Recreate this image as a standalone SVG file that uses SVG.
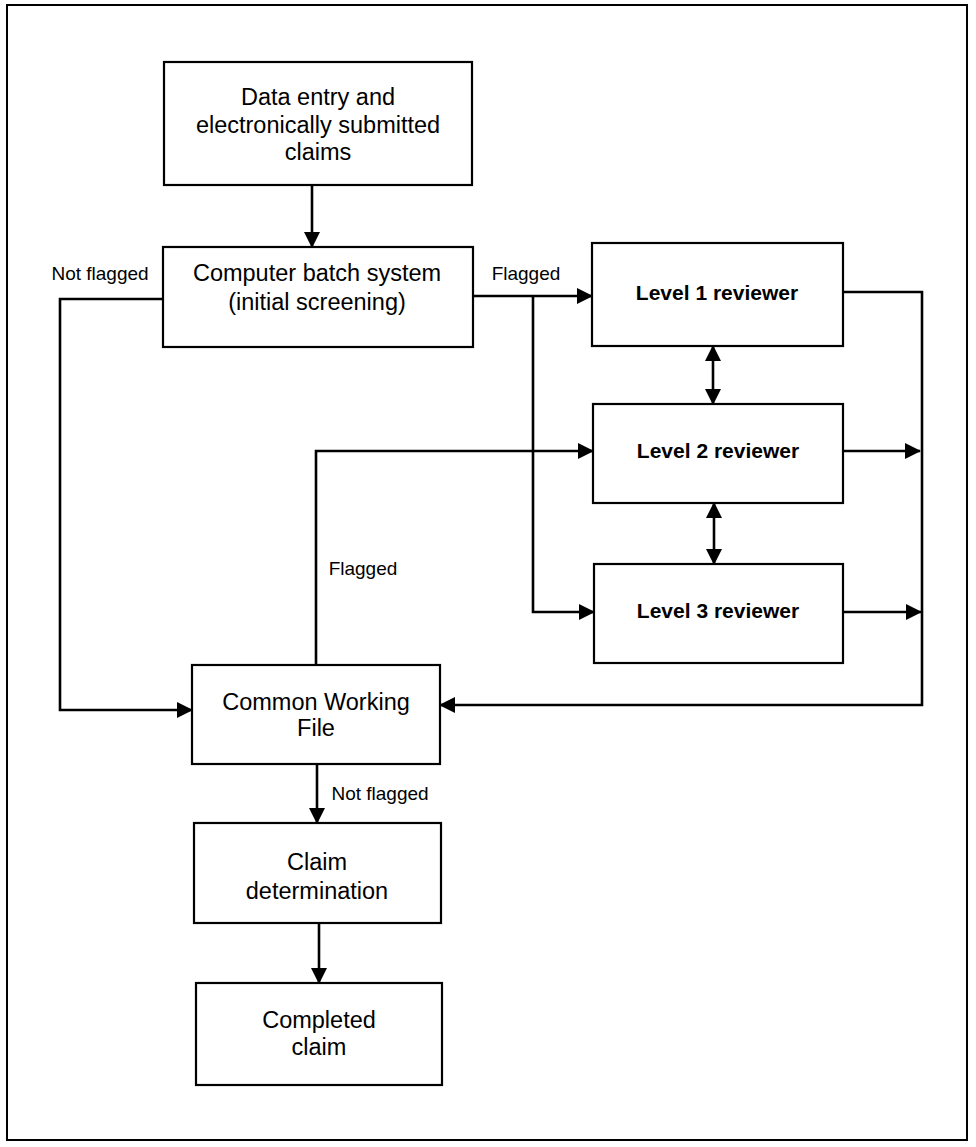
<svg xmlns="http://www.w3.org/2000/svg" width="976" height="1147" viewBox="0 0 976 1147">
<style>
.box{fill:#fff;stroke:#000;stroke-width:2.2}
.t{font-family:"Liberation Sans",Arial,Helvetica,sans-serif;font-size:23.5px;fill:#000;text-anchor:middle}
.b{font-weight:bold;font-size:21px}
.lbl{font-family:"Liberation Sans",Arial,Helvetica,sans-serif;font-size:19px;fill:#000;text-anchor:middle}
.c{fill:none;stroke:#000;stroke-width:2.6}
</style>
<defs>
<marker id="ah" markerUnits="userSpaceOnUse" markerWidth="16" markerHeight="16" refX="15" refY="8" orient="auto-start-reverse">
<path d="M0,0 L16,8 L0,16 z" fill="#000"/>
</marker>
</defs>
<rect x="0" y="0" width="976" height="1147" fill="#fff"/>
<rect x="7" y="5" width="960" height="1135" fill="none" stroke="#000" stroke-width="2"/>
<g id="connectors">
<path class="c" d="M312,185 V247" marker-end="url(#ah)"/>
<path class="c" d="M473,296 H592" marker-end="url(#ah)"/>
<path class="c" d="M533,296 V612 H594" marker-end="url(#ah)"/>
<path class="c" d="M843,292 H922 V705 H440" marker-end="url(#ah)"/>
<path class="c" d="M843,451 H920" marker-end="url(#ah)"/>
<path class="c" d="M843,612 H921" marker-end="url(#ah)"/>
<path class="c" d="M316,665 V451 H593" marker-end="url(#ah)"/>
<path class="c" d="M163,299 H60 V710 H192" marker-end="url(#ah)"/>
<path class="c" d="M713,346 V404" marker-start="url(#ah)" marker-end="url(#ah)"/>
<path class="c" d="M714,503 V564" marker-start="url(#ah)" marker-end="url(#ah)"/>
<path class="c" d="M317,765 V823" marker-end="url(#ah)"/>
<path class="c" d="M319,923 V983" marker-end="url(#ah)"/>
<text class="lbl" x="100" y="280">Not flagged</text>
<text class="lbl" x="526" y="280">Flagged</text>
<text class="lbl" x="363" y="575">Flagged</text>
<text class="lbl" x="380" y="800">Not flagged</text>
</g>
<g id="data-entry">
<rect class="box" x="164" y="62" width="308" height="123"/>
<text class="t" x="318" y="105">Data entry and</text>
<text class="t" x="318" y="133">electronically submitted</text>
<text class="t" x="318" y="160">claims</text>
</g>
<g id="batch">
<rect class="box" x="163" y="247" width="310" height="100"/>
<text class="t" x="317" y="281">Computer batch system</text>
<text class="t" x="317" y="310">(initial screening)</text>
</g>
<g id="level1">
<rect class="box" x="592" y="243" width="251" height="103"/>
<text class="t b" x="717" y="300">Level 1 reviewer</text>
</g>
<g id="level2">
<rect class="box" x="593" y="404" width="250" height="99"/>
<text class="t b" x="718" y="458">Level 2 reviewer</text>
</g>
<g id="level3">
<rect class="box" x="594" y="564" width="249" height="99"/>
<text class="t b" x="718" y="618">Level 3 reviewer</text>
</g>
<g id="cwf">
<rect class="box" x="192" y="665" width="248" height="99"/>
<text class="t" x="316" y="710">Common Working</text>
<text class="t" x="316" y="736">File</text>
</g>
<g id="claim-determination">
<rect class="box" x="194" y="823" width="247" height="100"/>
<text class="t" x="317" y="870">Claim</text>
<text class="t" x="317" y="899">determination</text>
</g>
<g id="completed">
<rect class="box" x="196" y="983" width="246" height="102"/>
<text class="t" x="319" y="1028">Completed</text>
<text class="t" x="319" y="1055">claim</text>
</g>
</svg>
